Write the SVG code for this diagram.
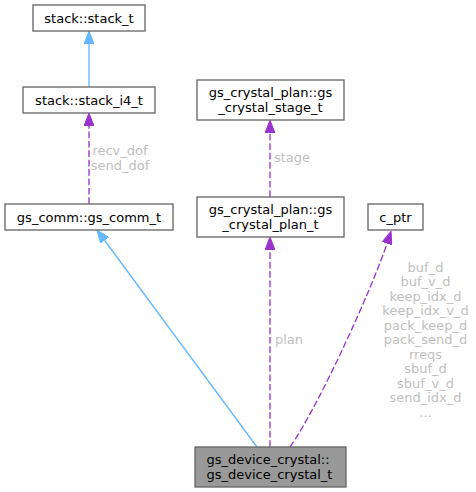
<svg xmlns="http://www.w3.org/2000/svg" width="476" height="492" viewBox="0 0 476 492">
<style>
.box{fill:#ffffff;stroke:#666666;stroke-width:1.33}
.focus{fill:#999999;stroke:#666666;stroke-width:1.33}
.t{font-family:"DejaVu Sans",sans-serif;font-size:13px;fill:#000000}
.c{text-anchor:middle}
.lbl{font-family:"DejaVu Sans",sans-serif;font-size:13px;fill:#c0c0c0;text-anchor:middle}
.inh{fill:none;stroke:#63b8ff;stroke-width:1.33}
.use{fill:none;stroke:#9a32cd;stroke-width:1.33;stroke-dasharray:6.7,2.7}
</style>
<defs>
<marker id="ab" viewBox="0 0 13 10" refX="0" refY="5" markerWidth="13" markerHeight="10" markerUnits="userSpaceOnUse" orient="auto">
<path d="M0,0 L13,5 L0,10 z" fill="#63b8ff" stroke="#63b8ff" stroke-width="1"/>
</marker>
<marker id="ap" viewBox="0 0 13 10" refX="0" refY="5" markerWidth="13" markerHeight="10" markerUnits="userSpaceOnUse" orient="auto">
<path d="M0,0 L13,5 L0,10 z" fill="#9a32cd" stroke="#9a32cd" stroke-width="1"/>
</marker>
</defs>
<g id="edges">
<path class="inh" d="M89,87 L89,44" marker-end="url(#ab)"/>
<path class="use" d="M89,204 L89,126" marker-end="url(#ap)"/>
<text class="lbl" x="120" y="155">recv_dof</text>
<text class="lbl" x="120" y="169.5">send_dof</text>
<path class="use" d="M270,197 L270,133" marker-end="url(#ap)"/>
<text class="lbl" x="292" y="161.5">stage</text>
<path class="inh" d="M257,447 L104.7,240.5" marker-end="url(#ab)"/>
<path class="use" d="M270,447 L270,250" marker-end="url(#ap)"/>
<text class="lbl" x="289" y="344">plan</text>
<path class="use" d="M290,447 C320,404 373,286 387,243.5" marker-end="url(#ap)"/>
<text class="lbl" x="425.5" y="271.5">buf_d</text>
<text class="lbl" x="425.5" y="286">buf_v_d</text>
<text class="lbl" x="425.5" y="300.5">keep_idx_d</text>
<text class="lbl" x="425.5" y="315">keep_idx_v_d</text>
<text class="lbl" x="425.5" y="329.5">pack_keep_d</text>
<text class="lbl" x="425.5" y="344">pack_send_d</text>
<text class="lbl" x="425.5" y="358.5">rreqs</text>
<text class="lbl" x="425.5" y="373">sbuf_d</text>
<text class="lbl" x="425.5" y="387.5">sbuf_v_d</text>
<text class="lbl" x="425.5" y="402">send_idx_d</text>
<text class="lbl" x="425.5" y="416.5">...</text>
</g>
<g id="node_stack_t">
<rect class="box" x="33" y="5" width="112" height="26"/>
<text class="t c" x="89" y="22.5">stack::stack_t</text>
</g>
<g id="node_stack_i4_t">
<rect class="box" x="23" y="87" width="132" height="26"/>
<text class="t c" x="89" y="104.5">stack::stack_i4_t</text>
</g>
<g id="node_gs_comm_t">
<rect class="box" x="5" y="204" width="168" height="26"/>
<text class="t c" x="89" y="221.5">gs_comm::gs_comm_t</text>
</g>
<g id="node_stage_t">
<rect class="box" x="197" y="80" width="147" height="40"/>
<text class="t c" x="270.5" y="97">gs_crystal_plan::gs</text>
<text class="t c" x="270.5" y="111.5">_crystal_stage_t</text>
</g>
<g id="node_plan_t">
<rect class="box" x="197" y="197" width="147" height="40"/>
<text class="t c" x="270.5" y="214">gs_crystal_plan::gs</text>
<text class="t c" x="270.5" y="228.5">_crystal_plan_t</text>
</g>
<g id="node_c_ptr">
<rect class="box" x="368" y="204" width="55" height="26"/>
<text class="t c" x="395.5" y="221.5">c_ptr</text>
</g>
<g id="node_device">
<rect class="focus" x="195" y="447" width="151" height="40"/>
<text class="t" x="206.5" y="464">gs_device_crystal::</text>
<text class="t" x="206.5" y="478.5">gs_device_crystal_t</text>
</g>
</svg>
